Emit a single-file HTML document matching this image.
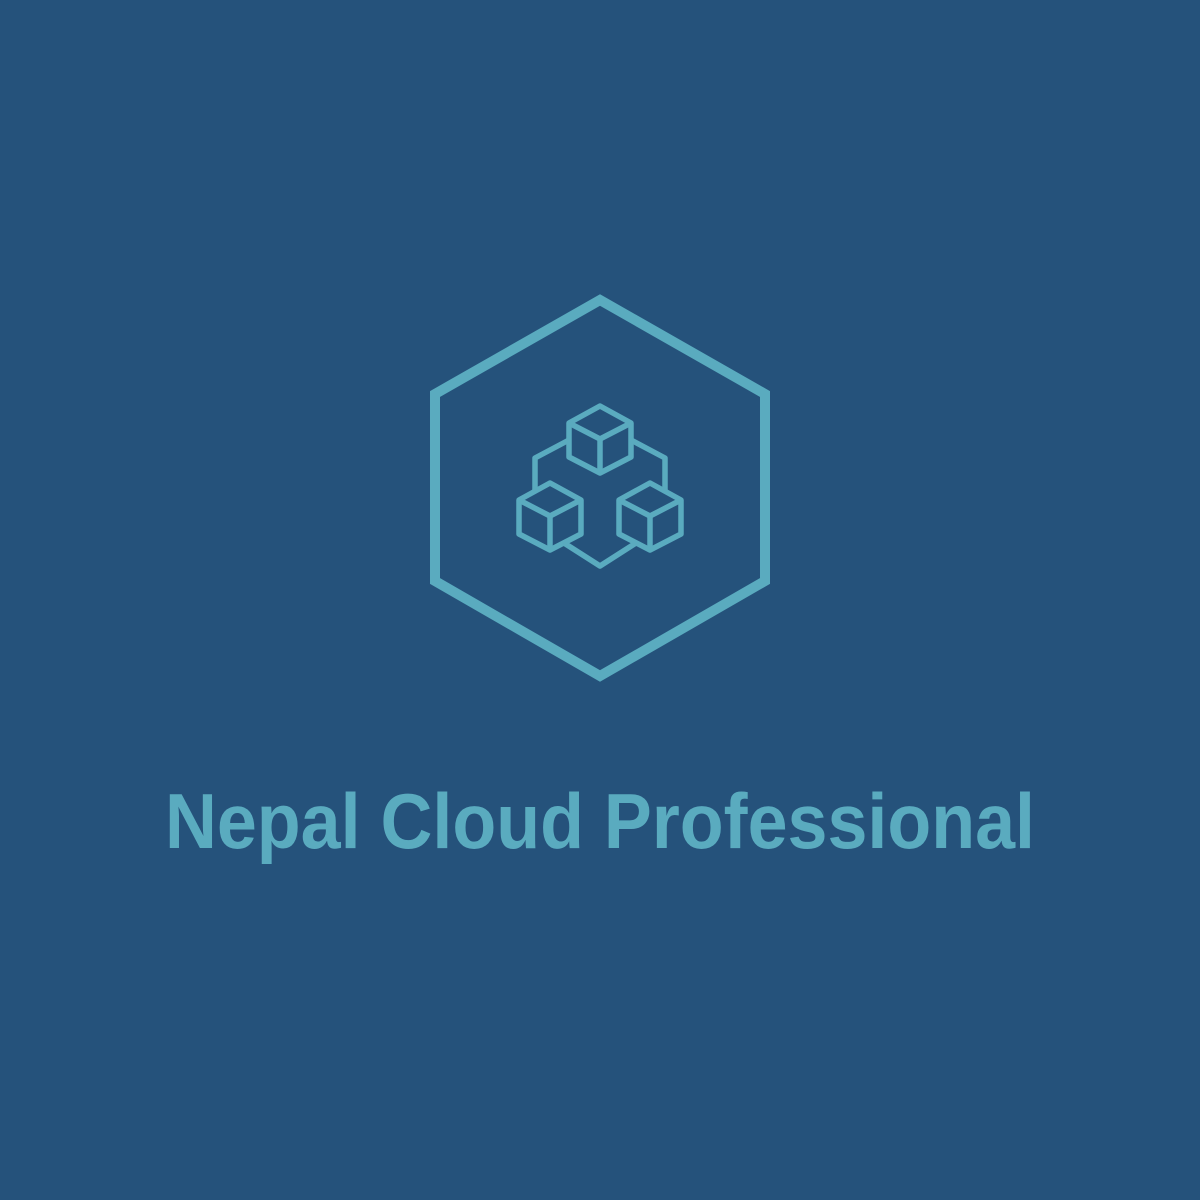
<!DOCTYPE html>
<html><head><meta charset="utf-8"><style>
html,body{margin:0;padding:0;background:#25527b;}
svg{display:block}
</style></head><body>
<svg width="1200" height="1200" viewBox="0 0 1200 1200" xmlns="http://www.w3.org/2000/svg">
<rect width="1200" height="1200" fill="#25527b"/>
<g fill="none" stroke="#5aabbf" stroke-linejoin="miter">
<polygon points="600,300 765,394 765,581 600,676 435,581 435,394" stroke-width="10"/>
<g stroke-width="5.5" stroke-linejoin="round">
<polygon points="600,406 631,423 631,457 600,473 569,457 569,423"/>
<polyline points="569,423 600,439 631,423"/><line x1="600" y1="439" x2="600" y2="473"/>
<polygon points="550,483 581,500 581,534 550,550 519,534 519,500"/>
<polyline points="519,500 550,516 581,500"/><line x1="550" y1="516" x2="550" y2="550"/>
<polygon points="650,483 681,500 681,534 650,550 619,534 619,500"/>
<polyline points="619,500 650,516 681,500"/><line x1="650" y1="516" x2="650" y2="550"/>
<polyline points="569,440 535,458 535,490"/>
<polyline points="631,440 665,458 665,490"/>
<polyline points="564,543 600,566 636,543"/>
</g>
</g>
<text x="600" y="848" text-anchor="middle" font-family="Liberation Sans, sans-serif" font-weight="bold" font-size="78" fill="#5aabbf" textLength="870" lengthAdjust="spacingAndGlyphs">Nepal Cloud Professional</text>
</svg>
</body></html>
